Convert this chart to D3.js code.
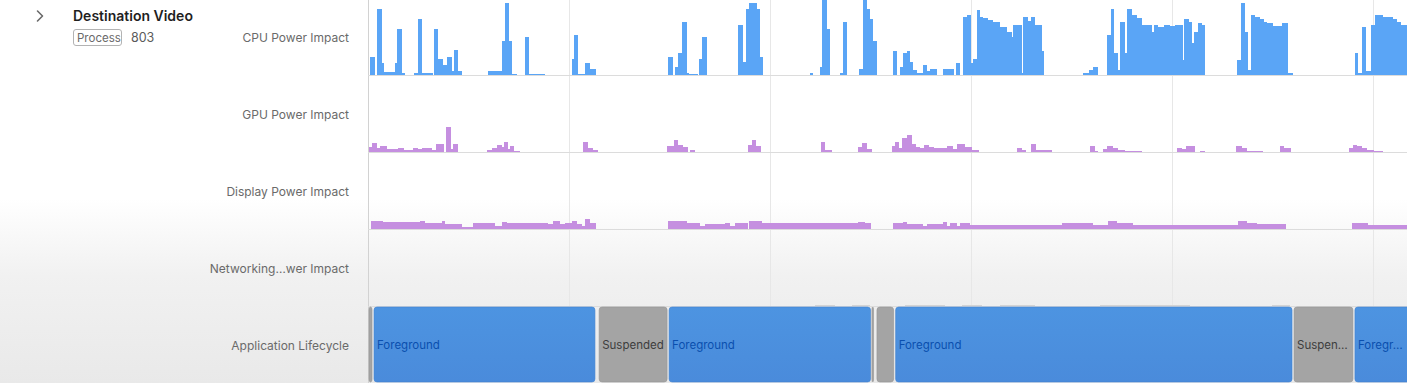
<!DOCTYPE html>
<html><head><meta charset="utf-8">
<script src="https://cdn.jsdelivr.net/npm/d3@7"></script>
<style>
html,body{margin:0;padding:0;background:#fff;}
svg{display:block;font-family:Inter,"Noto Sans",sans-serif;}
</style></head>
<body>
<svg id="chart" width="1407" height="383"></svg>
<script>
// ---- data (time in seconds, values as % of track height) ----
const trackLabels = ["CPU Power Impact","GPU Power Impact","Display Power Impact","Networking\u2026wer Impact","Application Lifecycle"];
const processName = "Destination Video";
const processTag = "Process";
const processId = "803";
const timeTicks = [10,20,30,40,50];

const cpuSegments = [
[0.10,0.35,24],[0.45,0.70,88],[0.70,0.80,16],[0.80,1.34,4],[1.34,1.44,16],[1.44,1.69,61],[1.69,1.84,3],
[2.29,2.49,3],[2.49,2.69,75],[2.69,3.23,3],[3.28,3.48,61],[3.48,3.73,21],[3.73,3.93,13],[3.93,4.18,24],[4.18,4.28,6],[4.28,4.48,34],[4.48,4.68,6],
[5.97,6.67,6],[6.67,6.82,46],[6.82,7.01,96],[7.01,7.16,46],[7.16,7.41,2],[7.81,8.01,51],[8.01,8.81,1],
[10.15,10.25,21],[10.25,10.45,53],[10.45,10.80,1],[10.80,11.04,16],[11.04,11.34,8],
[14.93,15.17,24],[15.27,15.42,11],[15.42,15.62,30],[15.62,15.87,71],[15.87,15.97,3],[15.97,16.42,1],[16.47,16.62,21],[16.62,16.87,51],
[18.41,18.66,67],[18.66,18.81,18],[18.81,18.96,88],[18.96,19.35,96],[19.35,19.50,88],[19.50,19.65,24],
[21.99,22.14,3],[22.49,22.59,11],[22.59,22.84,100],[22.84,22.99,61],[23.48,23.63,3],[23.63,23.83,71],
[24.43,24.63,8],[24.63,24.83,100],[24.83,24.98,88],[24.98,25.12,75],[25.12,25.32,46],
[26.12,26.32,32],[26.47,26.62,11],[26.62,26.82,30],[26.82,26.97,32],[26.97,27.11,18],[27.11,27.31,7],[27.31,27.61,3],[27.61,27.81,13],[27.81,27.96,6],[27.96,28.31,8],[28.61,29.15,8],[29.25,29.45,16],
[29.60,29.80,78],[29.80,30.00,80],[30.00,30.10,16],[30.10,30.30,21],[30.30,30.45,87],[30.45,30.60,77],[30.60,30.85,76],[30.85,31.09,74],[31.09,31.44,71],[31.44,31.79,64],[31.79,32.04,58],[32.04,32.09,51],[32.09,32.54,67],[32.54,32.59,3],[32.59,32.84,78],[32.84,32.99,72],[32.99,33.18,78],[33.18,33.53,67],[33.53,33.63,32],
[35.57,35.87,3],[35.87,36.07,7],[36.07,36.32,11],[36.77,36.97,53],[36.97,37.11,88],[37.11,37.31,30],[37.31,37.41,7],[37.41,37.66,71],[37.66,37.76,30],[37.76,38.01,88],[38.01,38.26,80],[38.26,38.51,76],[38.51,39.00,67],[39.00,39.10,58],[39.10,39.30,67],[39.30,39.60,64],[39.60,39.90,67],[39.90,40.15,65],[40.15,40.55,67],[40.55,40.60,20],[40.60,40.85,75],[40.85,41.00,71],[41.00,41.09,43],[41.09,41.29,58],[41.29,41.49,69],[41.49,41.64,67],
[43.23,43.43,20],[43.43,43.63,96],[43.63,43.78,58],[43.78,43.93,7],[43.93,44.13,80],[44.13,44.38,78],[44.38,44.58,75],[44.58,44.73,71],[44.73,45.02,69],[45.02,45.47,65],[45.47,45.77,69],[45.77,46.02,3],
[49.10,49.25,30],[49.25,49.45,3],[49.45,49.65,64],[49.65,49.90,6],[49.90,50.10,67],[50.10,50.50,80],[50.50,50.99,78],[50.99,51.19,75],[51.19,51.39,71],[51.39,51.75,67]
];

const gpuSegments = [
[0.05,0.20,7],[0.20,0.45,12.5],[0.45,0.60,5],[0.60,0.95,7.6],[0.95,1.49,4.4],[1.49,1.79,5.8],[1.79,2.24,2.2],[2.24,2.49,5.3],[2.49,2.69,3.6],[2.69,3.18,5.3],[3.18,3.38,2.2],[3.38,3.78,10.7],[3.88,4.13,33],[4.13,4.23,3.6],[4.23,4.48,10.7],
[5.92,6.17,2.2],[6.17,6.42,5.3],[6.42,6.67,10],[6.67,6.77,6.7],[6.77,6.97,13],[6.97,7.06,3.6],[7.06,7.26,8],[7.26,7.56,1],
[10.70,10.95,13],[10.95,11.19,5.3],[11.19,11.44,2.2],
[14.88,15.22,8],[15.22,15.42,15.6],[15.42,15.67,9.8],[15.67,15.92,6.7],[16.02,16.27,2.2],
[18.91,19.10,8.9],[19.10,19.30,15.6],[19.30,19.55,8],
[22.54,22.74,13],[22.74,23.08,2.2],
[24.38,24.58,6.7],[24.58,24.83,12.5],[24.83,25.07,4.4],
[26.07,26.22,8],[26.22,26.42,13],[26.42,26.57,5.3],[26.57,26.82,18.7],[26.82,27.06,23],[27.06,27.26,11],[27.26,27.46,6.7],[27.46,27.66,5.3],[27.66,27.91,10],[27.91,28.16,6.7],[28.16,28.81,5.3],[28.81,29.10,8],[29.10,29.30,3.6],[29.30,29.70,11],[29.70,30.05,6.7],[30.05,30.40,2.2],
[32.29,32.54,5.3],[32.54,32.74,2.2],[32.99,33.23,11],[33.23,34.03,2.7],
[35.92,36.17,7.6],[36.17,36.32,1],[36.57,36.77,4.4],[36.77,37.06,8],[37.06,37.31,5.8],[37.31,37.66,2.2],[37.66,38.51,1],
[40.25,40.50,5.3],[40.50,40.70,3.6],[40.70,40.95,8],[40.95,41.14,7.6],[41.39,41.64,1],
[43.18,43.48,8],[43.48,43.73,6],[43.73,44.53,1],
[45.37,45.57,8],[45.57,45.92,5.3],
[48.81,49.00,5.3],[49.00,49.20,10],[49.20,49.45,8],[49.45,49.70,5.3],[49.70,50.05,2.2],[50.05,50.50,1]
];

const displaySegments = [
[0.15,0.75,11],[0.75,2.59,9],[2.59,2.84,11],[2.84,3.68,7.6],[3.68,3.83,11],[3.83,4.68,6.7],[4.68,5.22,3],[5.22,6.32,7.6],[6.32,6.67,4.4],[6.67,6.92,9.8],[6.92,8.96,8.4],[8.96,9.20,6.2],[9.20,9.55,11],[9.55,9.80,6.7],[9.80,10.15,7.6],[10.15,10.40,11],[10.40,10.65,6.2],[10.65,10.80,4.4],[10.80,11.04,13.3],[11.04,11.34,7.6],
[14.93,15.62,10.7],[15.62,15.87,11],[15.87,16.52,7.6],[16.52,16.77,4.4],[16.77,17.76,6.2],[17.76,18.01,8.4],[18.01,18.26,4.4],[18.26,18.91,8.4],[18.96,19.60,11],[19.60,23.23,8.4],[23.23,24.38,7.6],[24.38,24.73,9.8],[24.73,25.02,7.6],
[26.12,26.62,8.4],[26.62,26.82,9.8],[26.82,27.61,7],[27.61,27.81,4.4],[27.81,28.61,7],[28.61,28.81,9],[28.81,28.96,4.4],[28.96,29.30,8.4],[29.30,29.45,4.4],[29.45,29.95,8.4],[29.95,34.53,5.3],[34.53,36.07,8.4],[36.07,36.82,5.3],[36.82,37.26,11],[37.26,38.06,8.4],[38.06,43.28,5.3],[43.28,43.73,11],[43.73,44.23,8.4],[44.23,45.67,7],
[48.96,49.75,8.4],[49.75,51.75,5.3]
];

const networkSegments = [
[22.24,23.23,2],[24.08,24.98,2],[26.72,28.71,2],[29.55,30.55,2],[31.44,33.18,2],[36.42,40.90,2],[44.98,45.87,2]
];

const lifeStart = [0, 0.25, 11.45, 14.93, 25.02, 25.27, 26.20, 46.02, 49.05];
const lifeEnd   = [0.25, 11.34, 14.93, 25.05, 25.20, 26.20, 46.02, 49.05, 51.9];
const lifeState = ["Suspended","Foreground","Suspended","Foreground","Suspended","Suspended","Foreground","Suspended","Foreground"];

// ---- drawing ----
const W = 1407, H = 383;
const svg = d3.select("#chart");
const defs = svg.append("defs");
const bg = defs.append("linearGradient").attr("id","bg").attr("x1",0).attr("y1",0).attr("x2",0).attr("y2",1);
bg.append("stop").attr("offset","0.52").attr("stop-color","#ffffff");
bg.append("stop").attr("offset","0.72").attr("stop-color","#f1f1f1");
bg.append("stop").attr("offset","1").attr("stop-color","#e9e9e9");
const fgGrad = defs.append("linearGradient").attr("id","fg").attr("x1",0).attr("y1",0).attr("x2",0).attr("y2",1);
fgGrad.append("stop").attr("offset","0").attr("stop-color","#4d94e1");
fgGrad.append("stop").attr("offset","1").attr("stop-color","#4a8bdb");

svg.append("rect").attr("width",W).attr("height",H).attr("fill","url(#bg)");

const x = d3.scaleLinear().domain([0, 51.74]).range([368, 1408]);
const trackH = 75;
const rowBase = [75, 152, 229, 306];
const rowMid = [37, 114, 191, 268, 345];

// grid lines
svg.append("g").selectAll("line").data(timeTicks).join("line")
  .attr("x1", d => Math.round(x(d)) + 0.5).attr("x2", d => Math.round(x(d)) + 0.5)
  .attr("y1", 0).attr("y2", H).attr("stroke", "#e7e7e7").attr("stroke-width", 1);
svg.append("line").attr("x1", x(0)+0.5).attr("x2", x(0)+0.5).attr("y1",0).attr("y2",H)
  .attr("stroke","#d2d2d2");

// row separators
svg.append("g").selectAll("line").data(rowBase).join("line")
  .attr("x1", x(0)).attr("x2", W).attr("y1", d => d + 0.5).attr("y2", d => d + 0.5)
  .attr("stroke", "#dcdcdc");

function drawTrack(data, base, color) {
  const y = d3.scaleLinear().domain([0, 100]).range([base, base - trackH]);
  svg.append("g").attr("shape-rendering", "crispEdges").selectAll("rect").data(data).join("rect")
    .attr("x", d => x(d[0]))
    .attr("width", d => Math.max(1, x(d[1]) - x(d[0])))
    .attr("y", d => y(d[2]))
    .attr("height", d => Math.max(1, base - y(d[2])))
    .attr("fill", color);
}
drawTrack(cpuSegments, rowBase[0], "#5aa5f6");
drawTrack(gpuSegments, rowBase[1], "#c58fe0");
drawTrack(displaySegments, rowBase[2], "#c58fe0");
drawTrack(networkSegments, rowBase[3], "#d4d4d4");

// lifecycle
const lifeTop = 307, lifeBottom = 382;
const life = lifeStart.map((s, i) => ({s, e: lifeEnd[i], state: lifeState[i]}));
const lg = svg.append("g");
life.forEach(d => {
  const x0 = x(d.s) + 1, x1 = x(d.e) - 1;
  const fg = d.state === "Foreground";
  lg.append("rect").attr("x", x0).attr("y", lifeTop).attr("width", Math.max(1, x1 - x0))
    .attr("height", lifeBottom - lifeTop).attr("rx", 3)
    .attr("fill", fg ? "url(#fg)" : "#a4a4a4")
    .attr("stroke", fg ? "#3f82d0" : "#959595").attr("stroke-width", 0.6);
  if (x1 - x0 > 30) {
    const t = lg.append("text").attr("x", x0 + 3).attr("y", rowMid[4] + 4)
      .attr("font-size", 11.5).attr("fill", fg ? "#0a4fae" : "#3d3d3d");
    const maxW = x1 - x0 - 6;
    t.text(d.state);
    if (t.node().getComputedTextLength() > maxW) {
      let s = d.state;
      while (s.length > 0) {
        s = s.slice(0, -1);
        t.text(s + "\u2026");
        if (t.node().getComputedTextLength() <= maxW) break;
      }
    }
  }
});

// track labels
svg.append("g").selectAll("text").data(trackLabels).join("text")
  .attr("x", 349).attr("y", (d, i) => rowMid[i] + 4.5)
  .attr("text-anchor", "end").attr("font-size", 12).attr("fill", "#6a6a6a")
  .text(d => d);

// header
svg.append("path").attr("d", "M37.5,11 L42.5,16 L37.5,21").attr("fill","none")
  .attr("stroke","#6a6a6a").attr("stroke-width",1.6).attr("stroke-linecap","round").attr("stroke-linejoin","round");
svg.append("text").attr("x", 73).attr("y", 21).attr("font-size", 14).attr("font-weight", 600)
  .attr("fill", "#1f1f1f").text(processName);
svg.append("rect").attr("x", 73.5).attr("y", 29.5).attr("width", 48).attr("height", 16).attr("rx", 2.5)
  .attr("fill", "none").attr("stroke", "#b3b3b3");
svg.append("text").attr("x", 77).attr("y", 41.5).attr("font-size", 11.5).attr("fill", "#6a6a6a").text(processTag);
svg.append("text").attr("x", 131).attr("y", 41.5).attr("font-size", 12.5).attr("fill", "#5a5a5a").text(processId);
</script>
</body></html>
